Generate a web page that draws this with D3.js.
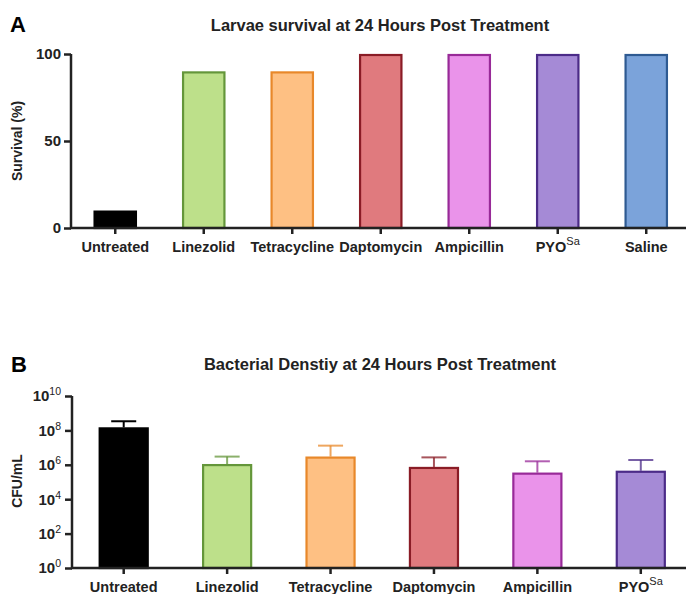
<!DOCTYPE html>
<html>
<head>
<meta charset="utf-8">
<script src="https://cdn.jsdelivr.net/npm/d3@7"></script>
<style>
  body { margin: 0; background: #fff; }
  text { font-family: "Liberation Sans", Arial, sans-serif; }
</style>
</head>
<body>
<div id="chart"></div>
<script>
// data
var survivalGroups = ["Untreated", "Linezolid", "Tetracycline", "Daptomycin", "Ampicillin", "PYO", "Saline"];
var survivalValues = [10, 90, 90, 100, 100, 100, 100];

var cfuGroups = ["Untreated", "Linezolid", "Tetracycline", "Daptomycin", "Ampicillin", "PYO"];
var cfuMeans = [1.5e8, 1.1e6, 3.0e6, 7.5e5, 3.5e5, 4.5e5];
var cfuUpper = [3.4e8, 3.0e6, 1.3e7, 2.7e6, 1.6e6, 1.9e6];

var survivalTicks = [0, 50, 100];
var cfuExponents = [0, 2, 4, 6, 8, 10];

// fill / outline colours per group
var fills = ["#000000", "#bde08a", "#fec083", "#e07a7e", "#ea93ea", "#a58ad6", "#7ba3da"];
var strokes = ["#000000", "#64963a", "#e8882a", "#8a1c26", "#982a98", "#4b2b88", "#2e5a92"];

var width = 686, height = 594;

var svg = d3.select("#chart")
  .append("svg")
    .attr("width", width)
    .attr("height", height);

// superscript helper for labels like PYO^Sa
function addLabel(sel, name) {
  sel.text(null);
  if (name === "PYO") {
    sel.append("tspan").text("PYO");
    sel.append("tspan").attr("dy", "-7").attr("font-size", "11px")
      .attr("font-weight", "normal").text("Sa");
  } else {
    sel.text(name);
  }
}

// ---------- Panel A ----------
var xA = d3.scaleBand()
  .domain(survivalGroups)
  .range([71, 690.5])
  .paddingInner(0.51)
  .paddingOuter(0.255);

var yA = d3.scaleLinear()
  .domain([0, 100])
  .range([228, 54]);

var gA = svg.append("g");

gA.append("text")
  .attr("x", 10).attr("y", 32)
  .attr("font-size", "22px").attr("font-weight", "bold")
  .text("A");

gA.append("text")
  .attr("x", 380).attr("y", 31)
  .attr("text-anchor", "middle")
  .attr("font-size", "16.5px").attr("font-weight", "bold")
  .attr("fill", "#222")
  .text("Larvae survival at 24 Hours Post Treatment");

gA.selectAll("rect.barA")
  .data(survivalValues)
  .enter()
  .append("rect")
    .attr("class", "barA")
    .attr("x", function(d, i) { return xA(survivalGroups[i]) + 1; })
    .attr("width", xA.bandwidth() - 2)
    .attr("y", function(d) { return yA(d) + 1; })
    .attr("height", function(d) { return yA(0) - yA(d) - 1; })
    .attr("fill", function(d, i) { return fills[i]; })
    .attr("stroke", function(d, i) { return strokes[i]; })
    .attr("stroke-width", 2.2);

// y axis A
var axA = gA.append("g")
  .attr("transform", "translate(71,0)")
  .call(d3.axisLeft(yA).tickValues(survivalTicks).tickSize(7).tickPadding(3));
axA.select(".domain").attr("stroke", "#222").attr("stroke-width", 2.5).attr("d", "M0,54V229");
axA.selectAll(".tick line").attr("stroke", "#222").attr("stroke-width", 2.5);
axA.selectAll(".tick text").attr("font-size", "15px").attr("font-weight", "bold")
  .attr("fill", "#222").attr("font-family", "Liberation Sans, Arial, sans-serif");

// x axis A
var axAx = gA.append("g")
  .attr("transform", "translate(0,228)")
  .call(d3.axisBottom(xA).tickSize(6).tickPadding(8));
axAx.select(".domain").attr("stroke", "#222").attr("stroke-width", 2.5).attr("d", "M70,0H686");
axAx.selectAll(".tick line").attr("stroke", "#222").attr("stroke-width", 2.5);
axAx.selectAll(".tick text")
  .attr("font-size", "14.5px").attr("font-weight", "bold").attr("fill", "#222")
  .attr("font-family", "Liberation Sans, Arial, sans-serif")
  .each(function(d) { addLabel(d3.select(this), d); });

gA.append("text")
  .attr("transform", "translate(22,141) rotate(-90)")
  .attr("text-anchor", "middle")
  .attr("font-size", "14px").attr("font-weight", "bold").attr("fill", "#222")
  .text("Survival (%)");

// ---------- Panel B ----------
var xB = d3.scaleBand()
  .domain(cfuGroups)
  .range([72, 692.5])
  .paddingInner(0.516)
  .paddingOuter(0.258);

var yB = d3.scaleLog()
  .domain([1, 1e10])
  .range([568, 396]);

var gB = svg.append("g");

gB.append("text")
  .attr("x", 11).attr("y", 372)
  .attr("font-size", "22px").attr("font-weight", "bold")
  .text("B");

gB.append("text")
  .attr("x", 380).attr("y", 370)
  .attr("text-anchor", "middle")
  .attr("font-size", "16.5px").attr("font-weight", "bold")
  .attr("fill", "#222")
  .text("Bacterial Denstiy at 24 Hours Post Treatment");

// error bars (upper only)
var err = gB.selectAll("g.err")
  .data(cfuMeans)
  .enter()
  .append("g")
    .attr("class", "err")
    .attr("stroke", function(d, i) { return i === 0 ? "#000" : strokes[i]; })
    .attr("stroke-opacity", function(d, i) { return i === 0 ? 1 : 0.75; })
    .attr("stroke-width", 2);
err.append("line")
  .attr("x1", function(d, i) { return xB(cfuGroups[i]) + xB.bandwidth() / 2; })
  .attr("x2", function(d, i) { return xB(cfuGroups[i]) + xB.bandwidth() / 2; })
  .attr("y1", function(d) { return yB(d); })
  .attr("y2", function(d, i) { return yB(cfuUpper[i]); });
err.append("line")
  .attr("x1", function(d, i) { return xB(cfuGroups[i]) + xB.bandwidth() / 4; })
  .attr("x2", function(d, i) { return xB(cfuGroups[i]) + xB.bandwidth() * 3 / 4; })
  .attr("y1", function(d, i) { return yB(cfuUpper[i]); })
  .attr("y2", function(d, i) { return yB(cfuUpper[i]); });

gB.selectAll("rect.barB")
  .data(cfuMeans)
  .enter()
  .append("rect")
    .attr("class", "barB")
    .attr("x", function(d, i) { return xB(cfuGroups[i]) + 1; })
    .attr("width", xB.bandwidth() - 2)
    .attr("y", function(d) { return yB(d) + 1; })
    .attr("height", function(d) { return yB(1) - yB(d) - 1; })
    .attr("fill", function(d, i) { return fills[i]; })
    .attr("stroke", function(d, i) { return strokes[i]; })
    .attr("stroke-width", 2.2);

// y axis B (log, 10^n labels)
var axB = gB.append("g")
  .attr("transform", "translate(72,0)")
  .call(d3.axisLeft(yB)
    .tickValues(cfuExponents.map(function(e) { return Math.pow(10, e); }))
    .tickSize(7).tickPadding(4));
axB.select(".domain").attr("stroke", "#222").attr("stroke-width", 2.5).attr("d", "M0,396V569");
axB.selectAll(".tick line").attr("stroke", "#222").attr("stroke-width", 2.5);
axB.selectAll(".tick text")
  .attr("font-size", "15px").attr("font-weight", "bold").attr("fill", "#222")
  .attr("font-family", "Liberation Sans, Arial, sans-serif")
  .each(function(d) {
    var t = d3.select(this).text(null);
    t.append("tspan").text("10");
    t.append("tspan").attr("dy", "-6").attr("font-size", "10.5px")
      .attr("font-weight", "normal").text(Math.round(Math.log10(d)));
  });

// x axis B
var axBx = gB.append("g")
  .attr("transform", "translate(0,568)")
  .call(d3.axisBottom(xB).tickSize(6).tickPadding(8));
axBx.select(".domain").attr("stroke", "#222").attr("stroke-width", 2.5).attr("d", "M71,0H686");
axBx.selectAll(".tick line").attr("stroke", "#222").attr("stroke-width", 2.5);
axBx.selectAll(".tick text")
  .attr("font-size", "14.5px").attr("font-weight", "bold").attr("fill", "#222")
  .attr("font-family", "Liberation Sans, Arial, sans-serif")
  .each(function(d) { addLabel(d3.select(this), d); });

gB.append("text")
  .attr("transform", "translate(22,481) rotate(-90)")
  .attr("text-anchor", "middle")
  .attr("font-size", "14px").attr("font-weight", "bold").attr("fill", "#222")
  .text("CFU/mL");
</script>
</body>
</html>
